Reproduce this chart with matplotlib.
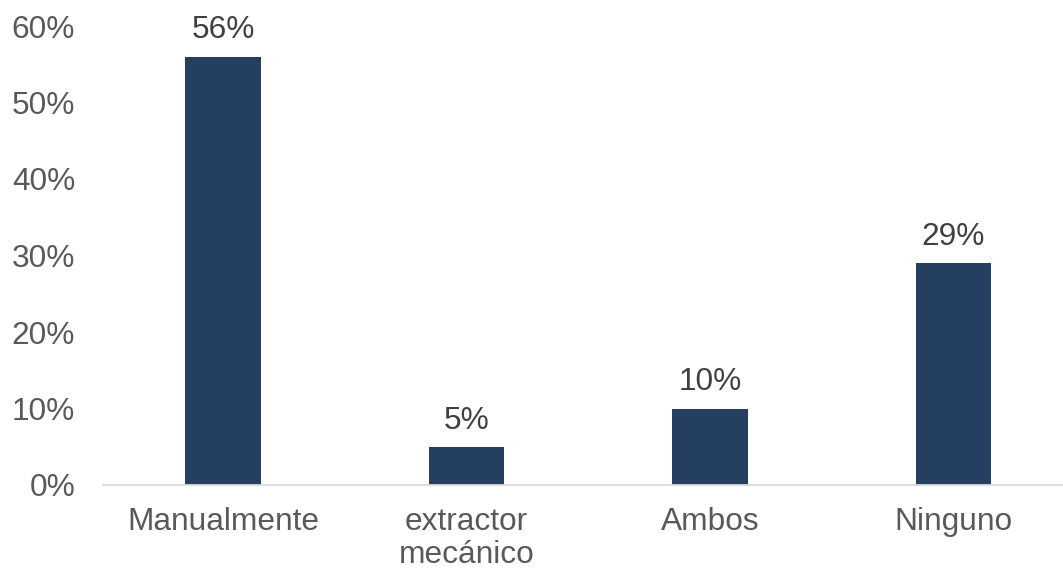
import numpy as np
import matplotlib.pyplot as plt
from matplotlib.ticker import FuncFormatter

categories = ["Manualmente", "extractor\nmecánico", "Ambos", "Ninguno"]
values = [56, 5, 10, 29]
yticks = [0, 10, 20, 30, 40, 50, 60]

plt.rcParams['font.family'] = ['Liberation Sans', 'DejaVu Sans']

fig = plt.figure(figsize=(10.63, 5.71), dpi=100)
# ejes en pixeles: izquierda 103, derecha 1063, y=0 en 485, y=60 en 26
ax = fig.add_axes([103 / 1063, (571 - 485) / 571, (1063 - 103) / 1063, (485 - 26) / 571])

x = np.arange(len(categories))
bars = ax.bar(x, values, width=0.312, color='#243F60', zorder=2)

ax.set_xlim(-0.4928, 3.4497)
ax.set_ylim(0, 60)
ax.set_yticks(yticks)
ax.yaxis.set_major_formatter(FuncFormatter(lambda v, p: f"{v:.0f}%"))
ax.set_xticks(x)
ax.set_xticklabels(categories, linespacing=1.1)

for s in ['top', 'right', 'left']:
    ax.spines[s].set_visible(False)
ax.spines['bottom'].set_color('#D9D9D9')
ax.spines['bottom'].set_linewidth(1.3)

ax.tick_params(axis='both', length=0, labelsize=22.8, colors='#595959')
ax.tick_params(axis='y', pad=20)
ax.tick_params(axis='x', pad=16)

for b, v in zip(bars, values):
    ax.annotate(f"{v}%", (b.get_x() + b.get_width() / 2, v), xytext=(0, 8),
                textcoords='offset points', ha='center', va='bottom',
                fontsize=22.8, color='#404040')

fig.savefig('out.png', dpi=100)
